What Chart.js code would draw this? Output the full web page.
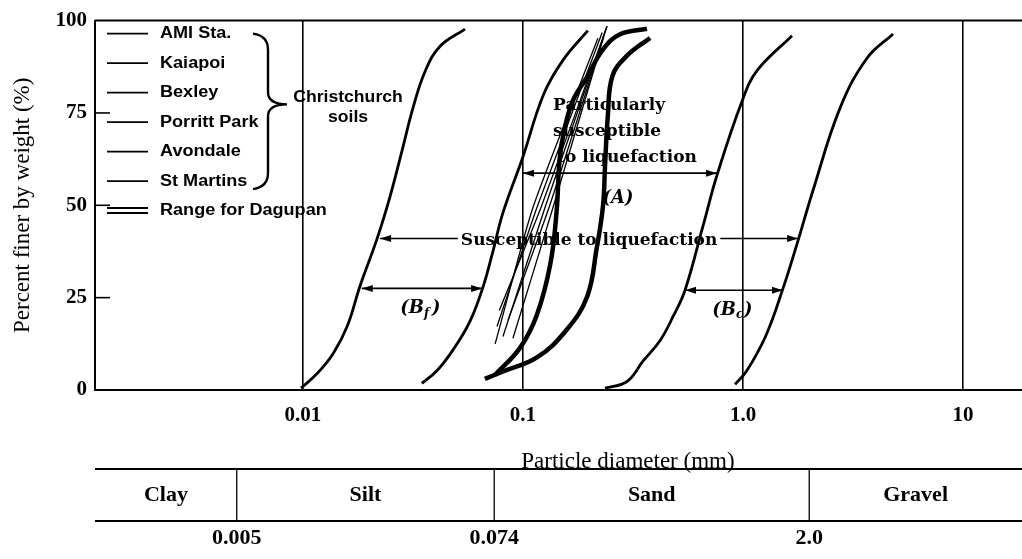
<!DOCTYPE html>
<html>
<head>
<meta charset="utf-8">
<script src="https://cdn.jsdelivr.net/npm/chart.js@4.4.1/dist/chart.umd.min.js"></script>
<style>
  html, body { margin: 0; padding: 0; background: #fff; }
  canvas { display: block; }
</style>
</head>
<body>
<canvas id="gradationChart" width="1022" height="559"></canvas>
<script>
// Grain size curves: diameter (mm) and percent finer by weight
// Limits of the "susceptible" bands
const fineBoundD = [0.0098, 0.0117, 0.0137, 0.0159, 0.0182, 0.0217, 0.0249, 0.0282, 0.0316, 0.0358, 0.0419, 0.0545];
const fineBoundP = [0.5, 4.7, 9.8, 17.3, 28.3, 40.9, 52.5, 64.8, 76.3, 86.1, 93, 97.7];
const fineInnerD = [0.0347, 0.0406, 0.048, 0.0574, 0.0659, 0.0729, 0.0811, 0.0995, 0.124, 0.152, 0.197];
const fineInnerP = [1.8, 5.2, 10.8, 18.6, 28, 37.4, 48, 62.8, 80, 89.3, 97.3];
const coarseInnerD = [0.236, 0.297, 0.351, 0.420, 0.481, 0.545, 0.658, 0.762, 0.99, 1.16, 1.67];
const coarseInnerP = [0.5, 2.3, 7.8, 13.4, 19.9, 27, 44.4, 58.2, 78.2, 86.5, 95.9];
const coarseBoundD = [0.92, 1.04, 1.27, 1.52, 1.78, 2.08, 2.76, 3.66, 4.81];
const coarseBoundP = [1.5, 5.2, 14.7, 27.5, 40.5, 54, 76.3, 89.8, 96.4];

// Range for Dagupan
const dagupanFineD = [0.0747, 0.0969, 0.1157, 0.133, 0.142, 0.147, 0.155, 0.169, 0.196, 0.231, 0.276, 0.366];
const dagupanFineP = [4.1, 11.4, 20.4, 34, 48, 63, 71, 78.5, 84.8, 92.2, 96.3, 97.8];
const dagupanCoarseD = [0.0671, 0.0811, 0.1157, 0.158, 0.196, 0.216, 0.231, 0.236, 0.243, 0.255, 0.297, 0.378];
const dagupanCoarseP = [3, 5, 8.8, 16.3, 25.4, 38.2, 49.8, 60.7, 74.2, 85, 90.5, 95.3];

// Christchurch soils
const christchurchSites = ['AMI Sta.', 'Kaiapoi', 'Bexley', 'Porritt Park', 'Avondale', 'St Martins'];
const christchurchD = [
  [0.0747, 0.1110, 0.219],
  [0.0762, 0.1157, 0.229],
  [0.0780, 0.1207, 0.241],
  [0.0811, 0.1259, 0.241],
  [0.0855, 0.1313, 0.238],
  [0.0900, 0.1369, 0.233]
];
const christchurchP = [
  [12.5, 49.4, 95.2],
  [17.2, 49.4, 96.8],
  [21.5, 49.4, 98.5],
  [14.5, 49.4, 98.5],
  [18.9, 49.4, 97.6],
  [14, 49.4, 95.7]
];

// Axes and soil classes
const xTickValues = [0.01, 0.1, 1, 10];
const xTickLabels = ['0.01', '0.1', '1.0', '10'];
const yTickValues = [0, 25, 50, 75, 100];
const soilClasses = ['Clay', 'Silt', 'Sand', 'Gravel'];
const classLimits = [0.005, 0.074, 2.0];
const classLimitLabels = ['0.005', '0.074', '2.0'];

const pts = (d, p) => d.map((v, i) => ({ x: v, y: p[i] }));

const boundStyle = { borderColor: '#000', borderWidth: 2.8, pointRadius: 0, tension: 0.4, fill: false };
const dagupanStyle = { borderColor: '#000', borderWidth: 4.5, pointRadius: 0, tension: 0.4, fill: false };
const siteStyle = { borderColor: '#000', borderWidth: 1.3, pointRadius: 0, tension: 0.2, fill: false };

const datasets = [
  { label: 'Bf lower', data: pts(fineBoundD, fineBoundP), ...boundStyle },
  { label: 'Bf upper', data: pts(fineInnerD, fineInnerP), ...boundStyle },
  { label: 'Bc lower', data: pts(coarseInnerD, coarseInnerP), ...boundStyle },
  { label: 'Bc upper', data: pts(coarseBoundD, coarseBoundP), ...boundStyle },
  { label: 'Dagupan fine', data: pts(dagupanFineD, dagupanFineP), ...dagupanStyle },
  { label: 'Dagupan coarse', data: pts(dagupanCoarseD, dagupanCoarseP), ...dagupanStyle }
];
christchurchSites.forEach((name, i) => {
  datasets.push({ label: name, data: pts(christchurchD[i], christchurchP[i]), ...siteStyle });
});

function wideText(ctx, text, x, y, sx) {
  ctx.save();
  ctx.translate(x, y);
  ctx.scale(sx, 1);
  ctx.fillText(text, 0, 0);
  ctx.restore();
}

function arrowHead(ctx, x, y, dir) {
  ctx.beginPath();
  ctx.moveTo(x, y);
  ctx.lineTo(x - dir * 11, y - 3.5);
  ctx.lineTo(x - dir * 11, y + 3.5);
  ctx.closePath();
  ctx.fill();
}

function hArrow(ctx, x1, x2, y) {
  ctx.beginPath();
  ctx.moveTo(x1, y);
  ctx.lineTo(x2, y);
  ctx.stroke();
  arrowHead(ctx, x1, y, -1);
  arrowHead(ctx, x2, y, 1);
}

const overlay = {
  id: 'overlay',
  afterDraw(chart) {
    const { ctx, chartArea: area, scales } = chart;
    const px = v => scales.x.getPixelForValue(v);
    const py = v => scales.y.getPixelForValue(v);
    ctx.save();
    ctx.strokeStyle = '#000';
    ctx.fillStyle = '#000';

    // top of the frame
    ctx.lineWidth = 2;
    ctx.beginPath();
    ctx.moveTo(area.left, area.top);
    ctx.lineTo(area.right, area.top);
    ctx.stroke();

    // short ticks inside the left axis
    ctx.lineWidth = 1.6;
    yTickValues.slice(1, -1).forEach(v => {
      ctx.beginPath();
      ctx.moveTo(area.left, py(v));
      ctx.lineTo(area.left + 15, py(v));
      ctx.stroke();
    });

    // legend
    ctx.font = 'bold 16px "Liberation Sans", Arial, sans-serif';
    ctx.textBaseline = 'middle';
    ctx.textAlign = 'left';
    const rowY = i => area.top + 13 + i * 29.5;
    ctx.lineWidth = 1.8;
    christchurchSites.forEach((name, i) => {
      ctx.beginPath();
      ctx.moveTo(area.left + 12, rowY(i));
      ctx.lineTo(area.left + 53, rowY(i));
      ctx.stroke();
      wideText(ctx, name, area.left + 65, rowY(i), 1.13);
    });
    const dy = rowY(6);
    ctx.lineWidth = 2;
    [-2.5, 2.5].forEach(o => {
      ctx.beginPath();
      ctx.moveTo(area.left + 12, dy + o);
      ctx.lineTo(area.left + 53, dy + o);
      ctx.stroke();
    });
    wideText(ctx, 'Range for Dagupan', area.left + 65, dy, 1.13);

    // brace grouping the Christchurch soils
    const bx = area.left + 158;
    const bTop = rowY(0), bBot = rowY(5) + 8, bMid = (rowY(2) + rowY(3)) / 2 - 3;
    ctx.lineWidth = 2.4;
    ctx.beginPath();
    ctx.moveTo(bx, bTop);
    ctx.quadraticCurveTo(bx + 15, bTop + 2, bx + 15, bTop + 16);
    ctx.lineTo(bx + 15, bMid - 12);
    ctx.quadraticCurveTo(bx + 15, bMid, bx + 34, bMid);
    ctx.quadraticCurveTo(bx + 15, bMid, bx + 15, bMid + 12);
    ctx.lineTo(bx + 15, bBot - 16);
    ctx.quadraticCurveTo(bx + 15, bBot - 2, bx, bBot);
    ctx.stroke();
    ctx.textAlign = 'center';
    wideText(ctx, 'Christchurch', area.left + 253, bMid - 7, 1.1);
    wideText(ctx, 'soils', area.left + 253, bMid + 13, 1.1);

    // annotations
    const serif = '"DejaVu Serif", serif';
    ctx.font = 'bold 17px ' + serif;
    ctx.textAlign = 'left';
    const ax = px(0.137), ay = py(77);
    ctx.fillText('Particularly', ax, ay);
    ctx.fillText('susceptible', ax, ay + 26);
    ctx.fillText('to liquefaction', ax + 4, ay + 52);

    ctx.lineWidth = 1.6;
    hArrow(ctx, px(0.1), px(0.762), py(58.7));
    ctx.font = 'italic bold 18px ' + serif;
    ctx.textAlign = 'center';
    ctx.fillText('(A)', px(0.27), py(52));

    // susceptible band arrow, broken around its label
    const sy = py(41);
    const sl = px(0.0224), sr = px(1.78);
    const label = 'Susceptible to liquefaction';
    ctx.font = 'bold 17px ' + serif;
    const sw = ctx.measureText(label).width;
    const sc = (sl + sr) / 2;
    ctx.beginPath();
    ctx.moveTo(sl, sy); ctx.lineTo(sc - sw / 2 - 3, sy);
    ctx.moveTo(sc + sw / 2 + 3, sy); ctx.lineTo(sr, sy);
    ctx.stroke();
    arrowHead(ctx, sl, sy, -1);
    arrowHead(ctx, sr, sy, 1);
    ctx.fillText(label, sc, sy + 2);

    // Bf and Bc bands
    const bands = [[0.0185, 0.0652, 27.5, 'f'], [0.545, 1.52, 27, 'c']];
    bands.forEach(([d1, d2, p, sub]) => {
      const x1 = px(d1), x2 = px(d2), y = py(p);
      hArrow(ctx, x1, x2, y);
      const cx = (x1 + x2) / 2;
      ctx.font = 'italic bold 18px ' + serif;
      ctx.textAlign = 'right';
      ctx.fillText('(B', cx + 2, y + 20);
      ctx.textAlign = 'left';
      ctx.font = 'italic bold 12px ' + serif;
      ctx.fillText(sub, cx + 2, y + 25);
      ctx.font = 'italic bold 18px ' + serif;
      ctx.fillText(')', cx + 10, y + 20);
    });

    // x axis title
    ctx.font = '23px "Liberation Serif", "Times New Roman", serif';
    ctx.textAlign = 'center';
    ctx.fillText('Particle diameter (mm)', px(0.3), 462);

    // soil classification strip
    const sTop = 469, sBot = 521;
    ctx.lineWidth = 2;
    ctx.beginPath();
    ctx.moveTo(area.left, sTop); ctx.lineTo(area.right, sTop);
    ctx.moveTo(area.left, sBot); ctx.lineTo(area.right, sBot);
    ctx.stroke();
    ctx.lineWidth = 1.3;
    const edges = [area.left, ...classLimits.map(px), area.right];
    classLimits.forEach(v => {
      const x = px(v);
      ctx.beginPath();
      ctx.moveTo(x, sTop); ctx.lineTo(x, sBot);
      ctx.stroke();
    });
    ctx.font = 'bold 22px "Liberation Serif", "Times New Roman", serif';
    soilClasses.forEach((name, i) => {
      ctx.fillText(name, (edges[i] + edges[i + 1]) / 2, (sTop + sBot) / 2);
    });
    classLimitLabels.forEach((t, i) => {
      ctx.fillText(t, px(classLimits[i]), sBot + 17);
    });

    ctx.restore();
  }
};

new Chart(document.getElementById('gradationChart'), {
  type: 'line',
  data: { datasets },
  options: {
    responsive: false,
    animation: false,
    layout: { padding: { top: 20, left: 0, right: 0, bottom: 0 } },
    plugins: {
      legend: { display: false },
      tooltip: { enabled: false }
    },
    scales: {
      x: {
        type: 'logarithmic',
        min: 0.001134,
        max: 18.54,
        afterFit(scale) { scale.height = 169; },
        afterBuildTicks(scale) { scale.ticks = xTickValues.map(v => ({ value: v })); },
        grid: { color: '#000', lineWidth: 1.6, drawTicks: false },
        border: { display: true, color: '#000', width: 2 },
        ticks: {
          autoSkip: false,
          maxRotation: 0,
          padding: 13,
          color: '#000',
          font: { family: '"Liberation Serif", "Times New Roman", serif', size: 21, weight: 'bold' },
          callback: v => xTickLabels[xTickValues.indexOf(v)]
        }
      },
      y: {
        min: 0,
        max: 100,
        afterFit(scale) { scale.width = 95; },
        afterBuildTicks(scale) { scale.ticks = yTickValues.map(v => ({ value: v })); },
        grid: { display: false, drawTicks: false },
        border: { display: true, color: '#000', width: 2 },
        ticks: {
          padding: 8,
          color: '#000',
          font: { family: '"Liberation Serif", "Times New Roman", serif', size: 21, weight: 'bold' }
        },
        title: {
          display: true,
          text: 'Percent finer by weight (%)',
          color: '#000',
          padding: { top: 9, bottom: 0 },
          font: { family: '"Liberation Serif", "Times New Roman", serif', size: 23 }
        }
      }
    }
  },
  plugins: [overlay]
});
</script>
</body>
</html>
